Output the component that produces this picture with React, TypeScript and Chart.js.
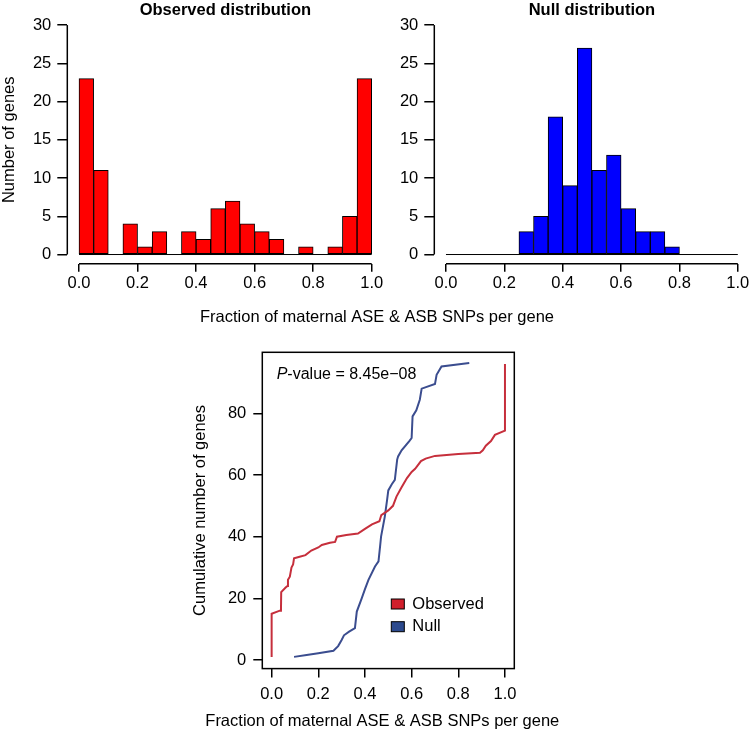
import React, { useEffect, useRef } from "react";
import { Chart, registerables } from "chart.js";

Chart.register(...registerables);

const FONT = "'Liberation Sans', Arial, Helvetica, sans-serif";

// Histogram bins (width 0.05)
const binCenters = [
  0.025, 0.075, 0.125, 0.175, 0.225, 0.275, 0.325, 0.375, 0.425, 0.475,
  0.525, 0.575, 0.625, 0.675, 0.725, 0.775, 0.825, 0.875, 0.925, 0.975,
];
const observedCounts = [23, 11, 0, 4, 1, 3, 0, 3, 2, 6, 7, 4, 3, 2, 0, 1, 0, 1, 5, 23];
const nullCounts = [0, 0, 0, 0, 0, 3, 5, 18, 9, 27, 11, 13, 6, 3, 3, 1, 0, 0, 0, 0];

// Tick labels
const fractionTicks = [0, 0.2, 0.4, 0.6, 0.8, 1.0];
const countTicks = [0, 5, 10, 15, 20, 25, 30];
const cumulativeTicks = [0, 20, 40, 60, 80];

// Cumulative curves
const observedCdfX = [
  0.0, 0.0, 0.035, 0.04, 0.041, 0.06, 0.068, 0.07, 0.078, 0.085, 0.092, 0.096,
  0.12, 0.145, 0.17, 0.2, 0.215, 0.25, 0.272, 0.28, 0.32, 0.37, 0.4, 0.43,
  0.462, 0.47, 0.5, 0.52, 0.535, 0.557, 0.58, 0.6, 0.615, 0.64, 0.66, 0.7,
  0.8, 0.893, 0.905, 0.918, 0.94, 0.957, 1.0, 1.0,
];
const observedCdfY = [
  1, 15, 16, 16, 22, 23.5, 24, 26, 27, 30, 31, 33,
  33.5, 34, 35.5, 36.5, 37.3, 38, 38.3, 40, 40.5, 41, 42.5, 44,
  45, 47, 48.5, 50, 53, 56, 59, 61, 62, 64.5, 65.3, 66.2,
  66.8, 67.2, 68, 69.5, 71, 73, 74.4, 96,
];
const nullCdfX = [
  0.096, 0.15, 0.2, 0.265, 0.285, 0.3, 0.31, 0.332, 0.357, 0.365, 0.386, 0.4,
  0.415, 0.443, 0.458, 0.465, 0.469, 0.485, 0.495, 0.5, 0.515, 0.528, 0.538,
  0.542, 0.557, 0.59, 0.6, 0.604, 0.62, 0.635, 0.643, 0.7, 0.707, 0.728, 0.847,
];
const nullCdfY = [
  1, 1.6, 2.2, 3, 4.5, 6.5, 8, 9.2, 10.3, 15.7, 20, 23,
  26, 30.3, 32, 37, 40, 46.5, 52, 55, 57, 58.4, 65,
  66, 68, 71, 72, 79, 81, 84.4, 88, 89.5, 92.5, 95.2, 96.3,
];

const setTicks = (values: number[]) => (scale: any) => {
  scale.ticks = values.map((v) => ({ value: v }));
};

const tickFont = { family: FONT, size: 16.5 };
const xLabel = "Fraction of maternal ASE & ASB SNPs per gene";

function histConfig(
  counts: number[],
  fill: string,
  title: string,
  pad: { left: number; right: number; top: number; bottom: number },
  yWidth: number,
  withYTitle: boolean,
  sharedLabel: boolean
): any {
  const axesPlugin = {
    id: "rAxes" + title.replace(/\s/g, ""),
    afterDraw(chart: any) {
      const { ctx, chartArea } = chart;
      const x = chart.scales.x;
      const y = chart.scales.y;
      ctx.save();
      ctx.strokeStyle = "#000";
      ctx.lineWidth = 1.5;
      ctx.beginPath();
      ctx.moveTo(chartArea.left, y.getPixelForValue(countTicks[0]));
      ctx.lineTo(chartArea.left, y.getPixelForValue(countTicks[countTicks.length - 1]));
      ctx.stroke();
      ctx.beginPath();
      ctx.moveTo(x.getPixelForValue(fractionTicks[0]), chartArea.bottom);
      ctx.lineTo(x.getPixelForValue(fractionTicks[fractionTicks.length - 1]), chartArea.bottom);
      ctx.stroke();
      // baseline of histogram (zero-count bins)
      ctx.lineWidth = 1;
      const y0 = y.getPixelForValue(0);
      ctx.beginPath();
      ctx.moveTo(x.getPixelForValue(0), y0);
      ctx.lineTo(x.getPixelForValue(1), y0);
      ctx.stroke();
      // title
      ctx.fillStyle = "#000";
      ctx.font = `bold 16.5px ${FONT}`;
      ctx.textAlign = "center";
      ctx.textBaseline = "alphabetic";
      ctx.fillText(title, (chartArea.left + chartArea.right) / 2, 15);
      if (sharedLabel) {
        ctx.font = `16.5px ${FONT}`;
        ctx.fillText(xLabel, 377, 322);
      }
      ctx.restore();
    },
  };
  return {
    type: "bar",
    data: {
      datasets: [
        {
          data: binCenters.map((c, i) => ({ x: c, y: counts[i] })),
          backgroundColor: fill,
          borderColor: "#000",
          borderWidth: 1,
          borderSkipped: false,
          barPercentage: 1,
          categoryPercentage: 1,
        },
      ],
    },
    options: {
      animation: false,
      responsive: false,
      devicePixelRatio: 1,
      layout: { padding: pad },
      plugins: { legend: { display: false }, tooltip: { enabled: false } },
      scales: {
        x: {
          type: "linear",
          min: -0.04,
          max: 1.04,
          offset: false,
          afterBuildTicks: setTicks(fractionTicks),
          afterFit: (s: any) => {
            s.height = 30;
          },
          grid: { display: true, offset: false, drawOnChartArea: false, tickLength: 8, color: "#000", lineWidth: 1.5 },
          border: { display: false },
          ticks: {
            padding: 1.7,
            font: tickFont,
            color: "#000",
            autoSkip: false,
            maxRotation: 0,
            callback: (v: any) => Number(v).toFixed(1),
          },
        },
        y: {
          type: "linear",
          min: -1.2,
          max: 31.2,
          afterBuildTicks: setTicks(countTicks),
          afterFit: (s: any) => {
            s.width = yWidth;
          },
          grid: { display: true, drawOnChartArea: false, tickLength: 10, color: "#000", lineWidth: 1.5 },
          border: { display: false },
          ticks: { padding: 6, font: tickFont, color: "#000", autoSkip: false, callback: (v: any) => String(v) },
          title: {
            display: withYTitle,
            text: "Number of genes",
            color: "#000",
            font: { family: FONT, size: 16.5 },
            padding: { top: 0, bottom: 0 },
          },
        },
      },
    },
    plugins: [axesPlugin],
  };
}

function cdfConfig(): any {
  const boxPlugin = {
    id: "rBox",
    afterDraw(chart: any) {
      const { ctx, chartArea } = chart;
      ctx.save();
      ctx.strokeStyle = "#000";
      ctx.lineWidth = 1.5;
      ctx.strokeRect(chartArea.left, chartArea.top, chartArea.right - chartArea.left, chartArea.bottom - chartArea.top);
      // P-value text
      const px = chartArea.left + 14.4;
      const py = chartArea.top + 26.2;
      ctx.fillStyle = "#000";
      ctx.textAlign = "left";
      ctx.textBaseline = "alphabetic";
      ctx.font = `italic 16px ${FONT}`;
      ctx.fillText("P", px, py);
      const w = ctx.measureText("P").width;
      ctx.font = `16px ${FONT}`;
      ctx.fillText("-value = 8.45e\u221208", px + w, py);
      // legend
      const items = [
        { label: "Observed", color: "#d11f2c", top: 246.7, base: 257 },
        { label: "Null", color: "#2c4a8e", top: 269.4, base: 278.4 },
      ];
      ctx.font = `16.5px ${FONT}`;
      ctx.lineWidth = 1;
      for (const it of items) {
        const bx = chartArea.left + 129;
        const by = chartArea.top + it.top;
        ctx.fillStyle = it.color;
        ctx.fillRect(bx, by, 13, 10);
        ctx.strokeStyle = "#000";
        ctx.strokeRect(bx, by, 13, 10);
        ctx.fillStyle = "#000";
        ctx.fillText(it.label, chartArea.left + 150, chartArea.top + it.base);
      }
      // x-axis title (drawn unconstrained in width)
      ctx.textAlign = "center";
      ctx.fillText(xLabel, (chartArea.left + chartArea.right) / 2 - 6, 726);
      ctx.restore();
    },
  };
  return {
    type: "scatter",
    data: {
      datasets: [
        {
          label: "Observed",
          data: observedCdfX.map((x, i) => ({ x, y: observedCdfY[i] })),
          showLine: true,
          borderColor: "#c62f3c",
          backgroundColor: "#c62f3c",
          borderWidth: 2,
          pointRadius: 0,
          tension: 0,
        },
        {
          label: "Null",
          data: nullCdfX.map((x, i) => ({ x, y: nullCdfY[i] })),
          showLine: true,
          borderColor: "#3b4d8f",
          backgroundColor: "#3b4d8f",
          borderWidth: 2,
          pointRadius: 0,
          tension: 0,
        },
      ],
    },
    options: {
      animation: false,
      responsive: false,
      devicePixelRatio: 1,
      layout: { padding: { left: 191, right: 236.7, top: 352.3, bottom: 0 } },
      plugins: { legend: { display: false }, tooltip: { enabled: false } },
      scales: {
        x: {
          type: "linear",
          min: -0.04,
          max: 1.04,
          afterBuildTicks: setTicks(fractionTicks),
          afterFit: (s: any) => {
            s.height = 61.4;
          },
          grid: { display: true, drawOnChartArea: false, tickLength: 9, color: "#000", lineWidth: 1.5 },
          border: { display: false },
          ticks: {
            padding: 7,
            font: tickFont,
            color: "#000",
            autoSkip: false,
            maxRotation: 0,
            callback: (v: any) => Number(v).toFixed(1),
          },
        },
        y: {
          type: "linear",
          min: -2.8,
          max: 99.8,
          afterBuildTicks: setTicks(cumulativeTicks),
          afterFit: (s: any) => {
            s.width = 71.3;
          },
          grid: { display: true, drawOnChartArea: false, tickLength: 9, color: "#000", lineWidth: 1.5 },
          border: { display: false },
          ticks: { padding: 7, font: tickFont, color: "#000", autoSkip: false, callback: (v: any) => String(v) },
          title: {
            display: true,
            text: "Cumulative number of genes",
            color: "#000",
            font: { family: FONT, size: 16.5 },
            padding: { top: 0, bottom: 0 },
          },
        },
      },
    },
    plugins: [boxPlugin],
  };
}

export default function App() {
  const obsRef = useRef<HTMLCanvasElement>(null);
  const nullRef = useRef<HTMLCanvasElement>(null);
  const cdfRef = useRef<HTMLCanvasElement>(null);

  useEffect(() => {
    const charts: Chart[] = [];
    if (obsRef.current) {
      charts.push(
        new Chart(
          obsRef.current,
          histConfig(
            observedCounts,
            "#ff0000",
            "Observed distribution",
            { left: 0, right: 367.6, top: 11.3, bottom: 436.3 },
            67.3,
            true,
            true
          )
        )
      );
    }
    if (nullRef.current) {
      charts.push(
        new Chart(
          nullRef.current,
          histConfig(
            nullCounts,
            "#0000ff",
            "Null distribution",
            { left: 0, right: 0.3, top: 11.3, bottom: 436.3 },
            434.3,
            false,
            false
          )
        )
      );
    }
    if (cdfRef.current) {
      charts.push(new Chart(cdfRef.current, cdfConfig()));
    }
    return () => charts.forEach((c) => c.destroy());
  }, []);

  const cs: React.CSSProperties = { position: "absolute", left: 0, top: 0, width: 751, height: 730 };
  return (
    <div style={{ position: "absolute", left: 0, top: 0, width: 751, height: 730, background: "#fff" }}>
      <canvas ref={obsRef} width={751} height={730} style={cs} />
      <canvas ref={nullRef} width={751} height={730} style={cs} />
      <canvas ref={cdfRef} width={751} height={730} style={cs} />
    </div>
  );
}
